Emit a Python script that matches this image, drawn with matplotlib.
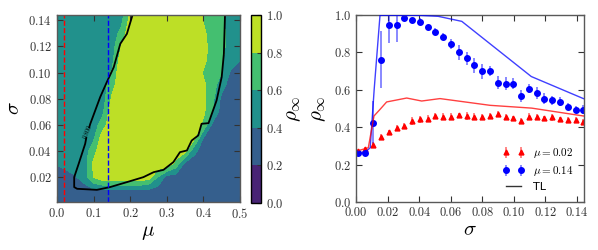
import numpy as np
import matplotlib
matplotlib.use('Agg')
import matplotlib.pyplot as plt
from matplotlib.lines import Line2D

plt.rcParams.update({
    'font.family': 'serif',
    'font.serif': ['cmr10'],
    'mathtext.fontset': 'cm',
    'axes.formatter.use_mathtext': True,
    'font.size': 9,
    'xtick.direction': 'in',
    'ytick.direction': 'in',
    'xtick.top': True,
    'ytick.right': True,
    'xtick.major.size': 4,
    'ytick.major.size': 4,
    'xtick.color': '0.2',
    'ytick.color': '0.2',
    'axes.edgecolor': '0.35',
    'axes.linewidth': 1.0,
})

# --- panel a: rho_inf over (mu, sigma) ---
mu_vals = [0.0, 0.025, 0.05, 0.075, 0.1, 0.125, 0.15, 0.175, 0.2, 0.225, 0.25,
           0.275, 0.3, 0.325, 0.35, 0.375, 0.4, 0.425, 0.45, 0.475, 0.5]
sigma_vals = [0.001, 0.01, 0.02, 0.03, 0.04, 0.05, 0.06, 0.07, 0.08, 0.09,
              0.10, 0.11, 0.12, 0.13, 0.144]
rho_map = [
    [.30, .30, .30, .30, .30, .30, .30, .30, .30, .30, .30, .30, .30, .30, .30, .30, .30, .30, .30, .30, .30],
    [.30, .30, .30, .30, .36, .38, .38, .38, .38, .38, .36, .32, .30, .30, .30, .30, .30, .30, .30, .30, .30],
    [.32, .34, .38, .50, .80, .95, .95, .95, .95, .95, .90, .60, .32, .30, .30, .30, .30, .30, .30, .30, .30],
    [.41, .45, .50, .50, .845, .95, .95, .95, .95, .95, .95, .95, .95, .72, .33, .30, .30, .30, .30, .30, .30],
    [.50, .50, .50, .50, .725, .95, .95, .95, .95, .95, .95, .95, .95, .95, .86, .45, .30, .30, .30, .30, .30],
    [.50, .50, .50, .50, .56, .92, .95, .95, .95, .95, .95, .95, .95, .95, .95, .85, .40, .30, .30, .30, .30],
    [.50, .50, .50, .50, .50, .70, .95, .95, .95, .95, .95, .95, .95, .95, .95, .95, .75, .35, .30, .30, .30],
    [.50, .50, .50, .50, .50, .56, .93, .95, .95, .95, .95, .95, .95, .95, .95, .95, .84, .60, .30, .30, .30],
    [.50, .50, .50, .50, .50, .50, .83, .95, .95, .95, .95, .95, .95, .95, .95, .95, .86, .65, .35, .30, .30],
    [.50, .50, .50, .50, .50, .50, .72, .95, .95, .95, .95, .95, .95, .95, .95, .95, .84, .70, .46, .32, .30],
    [.50, .50, .50, .50, .50, .50, .62, .95, .95, .95, .95, .95, .95, .95, .95, .92, .78, .68, .60, .37, .32],
    [.50, .50, .50, .50, .50, .50, .53, .90, .95, .95, .95, .95, .95, .95, .95, .95, .86, .70, .62, .50, .41],
    [.50, .50, .50, .50, .50, .50, .50, .80, .95, .95, .95, .95, .95, .95, .95, .95, .86, .72, .65, .52, .46],
    [.50, .50, .50, .50, .50, .50, .50, .65, .95, .95, .95, .95, .95, .95, .95, .95, .84, .70, .65, .52, .48],
    [.50, .50, .50, .50, .50, .50, .50, .50, .83, .95, .95, .95, .95, .95, .95, .95, .77, .70, .64, .50, .50],
]

# TL contour at rho = 0.8 (gap where the inline label sits)
tl_mu = [0.206, 0.191, 0.173, 0.155, 0.136, 0.118, 0.091, 0.088, np.nan, 0.080,
         0.077, 0.059, 0.047, 0.047, 0.055, 0.109, 0.145, 0.191, 0.236, 0.264,
         0.291, 0.318, 0.336, 0.355, 0.368, 0.386, 0.395, 0.414, 0.436, 0.450,
         0.456, 0.459]
tl_sigma = [0.1436, 0.1296, 0.122, 0.104, 0.0926, 0.0812, 0.0608, 0.058, np.nan, 0.050,
            0.0455, 0.030, 0.020, 0.0124, 0.0111, 0.0103, 0.0124, 0.0162, 0.020, 0.0238,
            0.0256, 0.0315, 0.0391, 0.0404, 0.048, 0.0519, 0.0608, 0.0613, 0.0786, 0.0965,
            0.1143, 0.1436]

mu_cuts = [0.02, 0.14]
cut_colors = ['r', 'b']

# --- panel b: rho_inf vs sigma ---
sigma_pts = [0.001, 0.0059, 0.0109, 0.0158, 0.0207, 0.0257, 0.0306, 0.0355, 0.0405,
             0.0454, 0.0503, 0.0552, 0.0602, 0.0651, 0.0700, 0.0750, 0.0799, 0.0848,
             0.0898, 0.0947, 0.0996, 0.1046, 0.1095, 0.1144, 0.1193, 0.1243, 0.1292,
             0.1341, 0.1391, 0.144]
rho_mu014 = [0.261, 0.261, 0.420, 0.762, 0.948, 0.948, 0.986, 0.975, 0.964, 0.934,
             0.911, 0.884, 0.844, 0.800, 0.769, 0.732, 0.699, 0.701, 0.637, 0.632,
             0.632, 0.567, 0.606, 0.583, 0.553, 0.544, 0.537, 0.510, 0.494, 0.494]
err_mu014 = [0.01, 0.01, 0.12, 0.15, 0.10, 0.09, 0.01, 0.01, 0.02, 0.01,
             0.02, 0.02, 0.025, 0.04, 0.035, 0.04, 0.04, 0.025, 0.035, 0.035,
             0.03, 0.03, 0.025, 0.03, 0.03, 0.025, 0.025, 0.02, 0.02, 0.025]
rho_mu002 = [0.272, 0.284, 0.304, 0.349, 0.372, 0.397, 0.406, 0.433, 0.442, 0.445,
             0.460, 0.456, 0.456, 0.463, 0.460, 0.456, 0.456, 0.460, 0.469, 0.453,
             0.447, 0.435, 0.456, 0.453, 0.447, 0.453, 0.442, 0.438, 0.438, 0.428]
err_mu002 = [0.012, 0.012, 0.015, 0.012, 0.012, 0.015, 0.015, 0.02, 0.018, 0.018,
              0.015, 0.02, 0.018, 0.015, 0.02, 0.02, 0.015, 0.018, 0.015, 0.015,
              0.012, 0.015, 0.02, 0.015, 0.015, 0.018, 0.015, 0.015, 0.018, 0.018]

tl014_sigma = [0.0015, 0.006, 0.009, 0.0115, 0.0152, 0.040, 0.052, 0.067, 0.111, 0.144]
tl014_rho = [0.262, 0.268, 0.29, 0.60, 0.998, 0.998, 0.993, 0.966, 0.671, 0.553]
tl002_sigma = [0.0015, 0.0078, 0.0114, 0.0152, 0.0194, 0.0321, 0.0416, 0.0532,
               0.0849, 0.1113, 0.144]
tl002_rho = [0.275, 0.29, 0.46, 0.495, 0.535, 0.556, 0.540, 0.553, 0.517, 0.502, 0.46]

fig = plt.figure(figsize=(5.98, 2.5), dpi=100)
ax1 = fig.add_axes([0.0953, 0.192, 0.306, 0.748])
cax = fig.add_axes([0.4197, 0.188, 0.0167, 0.752])
ax2 = fig.add_axes([0.5953, 0.192, 0.3813, 0.748])

levels = [0.0, 0.2, 0.4, 0.6, 0.8, 1.0]
cf = ax1.contourf(mu_vals, sigma_vals, np.array(rho_map), levels=levels, cmap='viridis')
ax1.plot(tl_mu, tl_sigma, color='k', lw=1.3)
ax1.text(0.084, 0.0545, '0.800', fontsize=4.5, rotation=68, ha='center', va='center')
for m, c in zip(mu_cuts, cut_colors):
    ax1.axvline(m, color=c, ls='--', lw=1)
ax1.set_xlim(0, 0.5)
ax1.set_ylim(0.001, 0.144)
ax1.set_xticks([0.0, 0.1, 0.2, 0.3, 0.4, 0.5])
ax1.set_yticks([0.02, 0.04, 0.06, 0.08, 0.10, 0.12, 0.14])
ax1.set_xlabel(r'$\mu$', fontsize=15, labelpad=2)
ax1.set_ylabel(r'$\sigma$', fontsize=15, labelpad=4)

cb = fig.colorbar(cf, cax=cax, ticks=levels)
cb.outline.set_edgecolor('k')
cb.ax.tick_params(direction='in', length=3, right=True, left=False)
cb.set_label(r'$\rho_\infty$', fontsize=15, labelpad=1)

ax2.errorbar(sigma_pts, rho_mu002, yerr=err_mu002, fmt='^', color='r', ms=3.5,
             ecolor=(1, 0, 0, 0.5), elinewidth=1.3, label=r'$\mu = 0.02$')
ax2.errorbar(sigma_pts, rho_mu014, yerr=err_mu014, fmt='o', color='b', ms=4,
             ecolor=(0, 0, 1, 0.5), elinewidth=1.3, label=r'$\mu = 0.14$')
ax2.plot(tl014_sigma, tl014_rho, color='b', lw=1, alpha=0.75, zorder=3)
ax2.plot(tl002_sigma, tl002_rho, color='r', lw=1, alpha=0.75, zorder=3)
handles, labels = ax2.get_legend_handles_labels()
handles.append(Line2D([], [], color='0.2', lw=1))
labels.append('TL')
leg = ax2.legend(handles, labels, loc='lower right', frameon=False, numpoints=2,
                 fontsize=8, handlelength=2.0, borderaxespad=0.5, labelspacing=0.35)
leg.get_texts()[2].set_fontfamily('DejaVu Sans')
ax2.set_xlim(0, 0.1444)
ax2.set_ylim(0, 1.0)
ax2.set_xticks([0.0, 0.02, 0.04, 0.06, 0.08, 0.10, 0.12, 0.14])
ax2.set_xticklabels(['0.00', '0.02', '0.04', '0.06', '0.08', '0.10', '0.12', '0.14'])
ax2.set_yticks([0.0, 0.2, 0.4, 0.6, 0.8, 1.0])
ax2.set_xlabel(r'$\sigma$', fontsize=15, labelpad=2)
ax2.set_ylabel(r'$\rho_\infty$', fontsize=15, labelpad=4)

fig.savefig('out.png', dpi=100)
